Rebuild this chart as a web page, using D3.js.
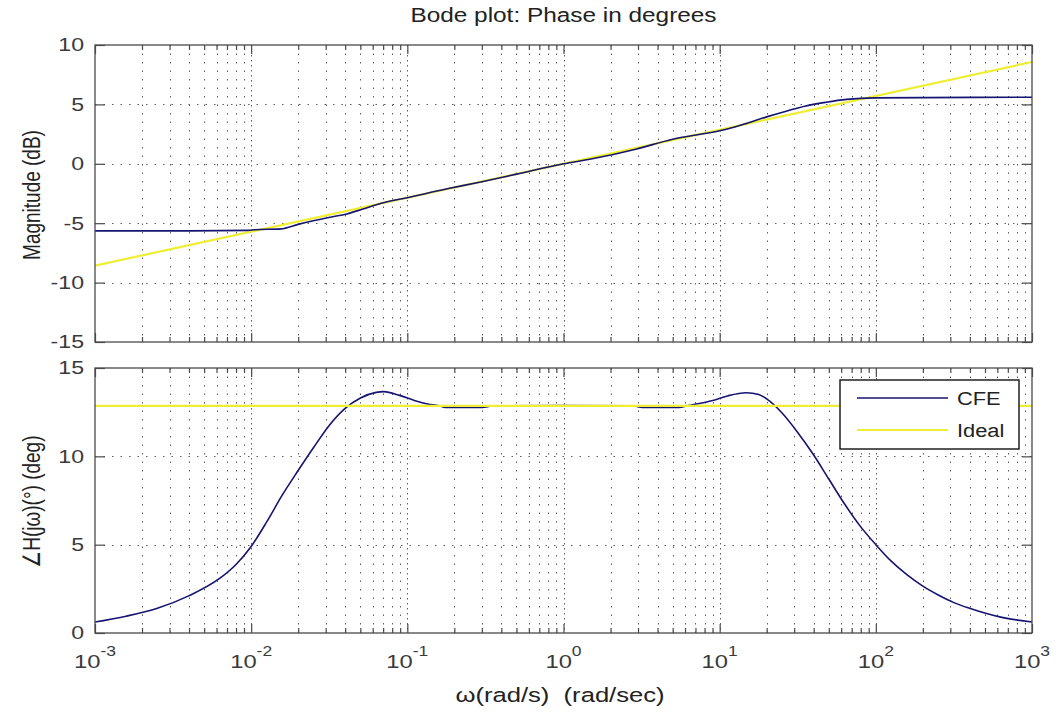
<!DOCTYPE html>
<html><head><meta charset="utf-8">
<script src="https://cdn.jsdelivr.net/npm/d3@7"></script>
<style>body{margin:0;background:#fff}</style>
</head><body>
<svg id="c" width="1060" height="713"></svg>
<script>
// ---- data ----
const omegaDomain = [1e-3, 1e3];
const xTickExponents = [-3, -2, -1, 0, 1, 2, 3];
const magTicks = [-15, -10, -5, 0, 5, 10];
const phaseTicks = [0, 5, 10, 15];

const magOmega = [0.001, 0.003, 0.0095, 0.0105, 0.0155, 0.02, 0.025, 0.032, 0.041, 0.052, 0.068, 0.1, 0.18, 0.29, 0.5, 1, 1.5, 2.9, 5, 10, 12.5, 15, 20, 27, 35, 48, 65, 100, 1000];
const magCFE   = [-5.65, -5.65, -5.6, -5.55, -5.48, -5.1, -4.8, -4.5, -4.22, -3.8, -3.32, -2.85, -2.1, -1.55, -0.87, 0, 0.4, 1.23, 2.07, 2.78, 3.1, 3.42, 3.95, 4.45, 4.85, 5.18, 5.42, 5.55, 5.6];
const idealMagOmega = [0.001, 1000];
const idealMag = [-8.57, 8.57];

const phaseOmega = [0.001, 0.00158, 0.00251, 0.00398, 0.00631, 0.00794, 0.01, 0.0126, 0.0158, 0.02, 0.0251, 0.0316, 0.0398, 0.0501, 0.0631, 0.0708, 0.0891, 0.112, 0.135, 0.16, 0.175, 0.30, 0.355, 1, 2.8, 3.2, 5.5, 6.2, 7.08, 8.9, 11.2, 14.8, 17.8, 20, 25.1, 31.6, 39.8, 50.1, 63.1, 79.4, 100, 126, 158, 200, 251, 316, 398, 631, 1000];
const phaseCFE   = [0.62, 0.95, 1.4, 2.1, 3.1, 3.85, 4.9, 6.3, 7.8, 9.2, 10.5, 11.75, 12.7, 13.3, 13.62, 13.66, 13.45, 13.15, 12.96, 12.86, 12.77, 12.77, 12.86, 12.88, 12.86, 12.77, 12.77, 12.86, 12.96, 13.15, 13.42, 13.6, 13.5, 13.25, 12.45, 11.35, 10.1, 8.7, 7.3, 6.05, 5.0, 4.05, 3.3, 2.65, 2.15, 1.72, 1.4, 0.9, 0.62];
const idealPhaseOmega = [0.001, 1000];
const idealPhase = [12.86, 12.86];

const legendLabels = ["CFE", "Ideal"];
const titleText = "Bode plot: Phase in degrees";
const xLabelText = "ω(rad/s)  (rad/sec)";
const magLabelText = "Magnitude (dB)";
const phaseLabelText = "∠H(jω)(°) (deg)";

// ---- styles ----
const CFE_COLOR = "#151470", IDEAL_COLOR = "#eeee33";
const AX_COLOR = "#4a4a4a", GRID_COLOR = "#5e5e5e", TXT = "#3a3a3a";
const FONT = "'Liberation Sans', Arial, Helvetica, sans-serif";
const SX = 1.25;

const svg = d3.select("#c");
const X0 = 95, X1 = 1032;
const x = d3.scaleLog().domain(omegaDomain).range([X0, X1]);
const decades = xTickExponents.map(e => Math.pow(10, e));
const minors = [];
for (let e = xTickExponents[0]; e < xTickExponents[xTickExponents.length - 1]; e++)
  for (let k = 2; k <= 9; k++) minors.push(k * Math.pow(10, e));

const zip = (a, b) => a.map((v, i) => [v, b[i]]);

const panels = [
  { top: 45, bottom: 342, domain: [-15, 10], ticks: magTicks, cfeOnTop: true,
    cfe: zip(magOmega, magCFE), ideal: zip(idealMagOmega, idealMag) },
  { top: 368, bottom: 633, domain: [0, 15], ticks: phaseTicks, cfeOnTop: false,
    cfe: zip(phaseOmega, phaseCFE), ideal: zip(idealPhaseOmega, idealPhase) }
];

panels.forEach((p, pi) => {
  const y = d3.scaleLinear().domain(p.domain).range([p.bottom, p.top]);
  const g = svg.append("g");
  const clipId = "clip" + pi;
  svg.append("clipPath").attr("id", clipId).append("rect")
    .attr("x", X0).attr("y", p.top).attr("width", X1 - X0).attr("height", p.bottom - p.top);

  // grid
  const grid = g.append("g").attr("fill", "none").attr("stroke", GRID_COLOR).attr("stroke-width", 1);
  grid.selectAll(".vm").data(minors).join("line")
    .attr("x1", d => Math.round(x(d)) + 0.5).attr("x2", d => Math.round(x(d)) + 0.5)
    .attr("y1", p.top).attr("y2", p.bottom).attr("stroke-dasharray", "1.5,7");
  grid.selectAll(".vM").data(decades.slice(1, -1)).join("line")
    .attr("x1", d => Math.round(x(d)) + 0.5).attr("x2", d => Math.round(x(d)) + 0.5)
    .attr("y1", p.top).attr("y2", p.bottom).attr("stroke-dasharray", "1.5,3.5");
  grid.selectAll(".h").data(p.ticks.slice(1, -1)).join("line")
    .attr("x1", X0).attr("x2", X1)
    .attr("y1", d => Math.round(y(d)) + 0.5).attr("y2", d => Math.round(y(d)) + 0.5)
    .attr("stroke-dasharray", "1.5,7");

  // series
  const lg = g.append("g").attr("clip-path", `url(#${clipId})`).attr("fill", "none");
  const drawCFE = () => lg.append("path").datum(p.cfe)
    .attr("d", d3.line().x(d => x(d[0])).y(d => y(d[1])).curve(d3.curveMonotoneX))
    .attr("stroke", CFE_COLOR).attr("stroke-width", 1.6);
  const drawIdeal = () => lg.append("path").datum(p.ideal)
    .attr("d", d3.line().x(d => x(d[0])).y(d => y(d[1])))
    .attr("stroke", IDEAL_COLOR).attr("stroke-width", 2.2);
  if (p.cfeOnTop) { drawIdeal(); drawCFE(); } else { drawCFE(); drawIdeal(); }

  // axes ticks (inward, all four sides)
  const ax = (gen, tx, ty) => {
    const a = g.append("g").attr("transform", `translate(${tx},${ty})`).call(gen);
    a.select(".domain").remove();
    a.selectAll("line").attr("stroke", AX_COLOR).attr("stroke-width", 1.2);
    a.selectAll("text").remove();
  };
  ax(d3.axisBottom(x).tickValues(decades).tickSize(-9).tickFormat(""), 0, p.bottom);
  ax(d3.axisBottom(x).tickValues(minors).tickSize(-5).tickFormat(""), 0, p.bottom);
  ax(d3.axisTop(x).tickValues(decades).tickSize(-9).tickFormat(""), 0, p.top);
  ax(d3.axisTop(x).tickValues(minors).tickSize(-5).tickFormat(""), 0, p.top);
  ax(d3.axisLeft(y).tickValues(p.ticks).tickSize(-10).tickFormat(""), X0, 0);
  ax(d3.axisRight(y).tickValues(p.ticks).tickSize(-10).tickFormat(""), X1, 0);

  g.append("rect").attr("x", X0).attr("y", p.top).attr("width", X1 - X0).attr("height", p.bottom - p.top)
    .attr("fill", "none").attr("stroke", AX_COLOR).attr("stroke-width", 1.3);

  // y tick labels
  g.selectAll(".yl").data(p.ticks).join("g")
    .attr("transform", d => `translate(84,${y(d)}) scale(${SX},1)`)
    .append("text").attr("text-anchor", "end").attr("dy", "0.35em")
    .attr("font-family", FONT).attr("font-size", 18.5).attr("fill", TXT)
    .text(d => String(d));
});

// x tick labels (bottom panel)
const xl = svg.selectAll(".xl").data(xTickExponents).join("g")
  .attr("transform", e => `translate(${x(Math.pow(10, e))},668) scale(${SX},1)`)
  .append("text").attr("text-anchor", "middle")
  .attr("font-family", FONT).attr("fill", TXT);
xl.append("tspan").attr("font-size", 19).text("10");
xl.append("tspan").attr("font-size", 14).attr("dy", -12).text(e => String(e));

// title
svg.append("g").attr("transform", `translate(${(X0 + X1) / 2},22) scale(${SX},1)`)
  .append("text").attr("text-anchor", "middle").attr("font-family", FONT)
  .attr("font-size", 19.5).attr("fill", "#222").text(titleText);

// x label
svg.append("g").attr("transform", `translate(560,702) scale(${SX},1)`)
  .append("text").attr("text-anchor", "middle").attr("font-family", FONT)
  .attr("font-size", 20.5).attr("fill", "#222").style("white-space", "pre").text(xLabelText);

// y labels
[[magLabelText, 195], [phaseLabelText, 502]].forEach(([t, cy]) => {
  svg.append("g").attr("transform", `translate(40,${cy}) scale(${SX},1) rotate(-90)`)
    .append("text").attr("text-anchor", "middle").attr("font-family", FONT)
    .attr("font-size", 19).attr("fill", "#222").text(t);
});

// legend
const leg = svg.append("g");
leg.append("rect").attr("x", 840).attr("y", 380).attr("width", 179).attr("height", 69)
  .attr("fill", "#fff").attr("stroke", "#111").attr("stroke-width", 1.4);
const legColors = [CFE_COLOR, IDEAL_COLOR];
const legY = d3.scalePoint().domain(legendLabels).range([398, 430]);
legendLabels.forEach((lab, i) => {
  leg.append("line").attr("x1", 857).attr("x2", 948).attr("y1", legY(lab)).attr("y2", legY(lab))
    .attr("stroke", legColors[i]).attr("stroke-width", i ? 2.2 : 1.6);
  leg.append("g").attr("transform", `translate(957,${legY(lab)}) scale(1.15,1)`)
    .append("text").attr("dy", "0.36em").attr("font-family", FONT).attr("font-size", 19)
    .attr("fill", "#222").text(lab);
});
</script>
</body></html>
